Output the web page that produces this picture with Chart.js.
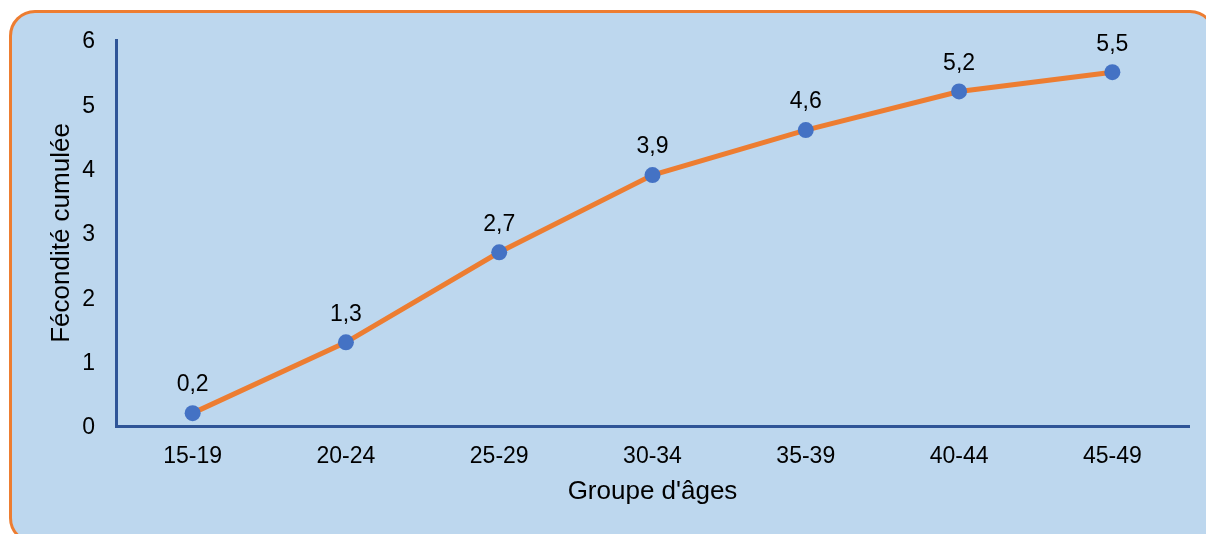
<!DOCTYPE html>
<html>
<head>
<meta charset="utf-8">
<script src="https://cdn.jsdelivr.net/npm/chart.js@4"></script>
<style>
  html, body { margin: 0; padding: 0; width: 1206px; height: 534px; overflow: hidden; background: #fff; }
  #frame {
    position: absolute; left: 9px; top: 10px; width: 1207px; height: 534px;
    box-sizing: border-box; border: 3px solid #ED7D31; border-radius: 26px;
    background: #BDD7EE;
  }
  #wrap { position: absolute; left: 0; top: 0; width: 1206px; height: 534px; }
</style>
</head>
<body>
<div id="frame"></div>
<div id="wrap"><canvas id="my-chart" width="1206" height="534"></canvas></div>
<script>
const ageGroups = ["15-19", "20-24", "25-29", "30-34", "35-39", "40-44", "45-49"];
const cumulFertility = [0.2, 1.3, 2.7, 3.9, 4.6, 5.2, 5.5];
const yTicks = [0, 1, 2, 3, 4, 5, 6];

const fontName = "'Liberation Sans', Arial, sans-serif";
const axisBlue = "#2F5597";

// labels above the points, french decimal comma
const pointLabels = {
  id: "pointLabels",
  afterDatasetsDraw(chart) {
    const ctx = chart.ctx;
    const meta = chart.getDatasetMeta(0);
    ctx.save();
    ctx.font = "23px " + fontName;
    ctx.fillStyle = "#000";
    ctx.textAlign = "center";
    ctx.textBaseline = "middle";
    meta.data.forEach((pt, i) => {
      const txt = cumulFertility[i].toFixed(1).replace(".", ",");
      ctx.fillText(txt, pt.x, pt.y - 28);
    });
    ctx.restore();
  }
};

const ctx = document.getElementById("my-chart").getContext("2d");
const chart = new Chart(ctx, {
  type: "line",
  data: {
    labels: ageGroups,
    datasets: [
      {
        data: cumulFertility,
        borderColor: "#ED7D31",
        borderWidth: 5,
        backgroundColor: "#4472C4",
        pointBackgroundColor: "#4472C4",
        pointBorderColor: "#4472C4",
        pointRadius: 8,
        pointBorderWidth: 0,
        tension: 0,
        clip: false,
      },
    ],
  },
  options: {
    responsive: false,
    animation: false,
    layout: { padding: { top: 40, right: 17, left: 0, bottom: 0 } },
    plugins: {
      legend: { display: false },
      tooltip: { enabled: false },
    },
    scales: {
      x: {
        offset: true,
        grid: { display: false, drawTicks: false },
        border: { display: true, color: axisBlue, width: 3 },
        ticks: { color: "#000", padding: 17, font: { family: fontName, size: 23 } },
        title: {
          display: true,
          text: "Groupe d'âges",
          color: "#000",
          font: { family: fontName, size: 26 },
          padding: { top: 0, bottom: 27 },
        },
        afterFit(scale) { scale.height = 108; },
      },
      y: {
        min: 0,
        max: 6,
        afterBuildTicks(scale) { scale.ticks = yTicks.map((v) => ({ value: v })); },
        grid: { display: false, drawTicks: false },
        border: { display: true, color: axisBlue, width: 3 },
        ticks: { color: "#000", padding: 21, labelOffset: 2, font: { family: fontName, size: 23 } },
        title: {
          display: true,
          text: "Fécondité cumulée",
          color: "#000",
          font: { family: fontName, size: 26 },
          padding: { top: 46, bottom: 0 },
        },
        afterFit(scale) { scale.width = 116; },
      },
    },
  },
  plugins: [pointLabels],
});
</script>
</body>
</html>
